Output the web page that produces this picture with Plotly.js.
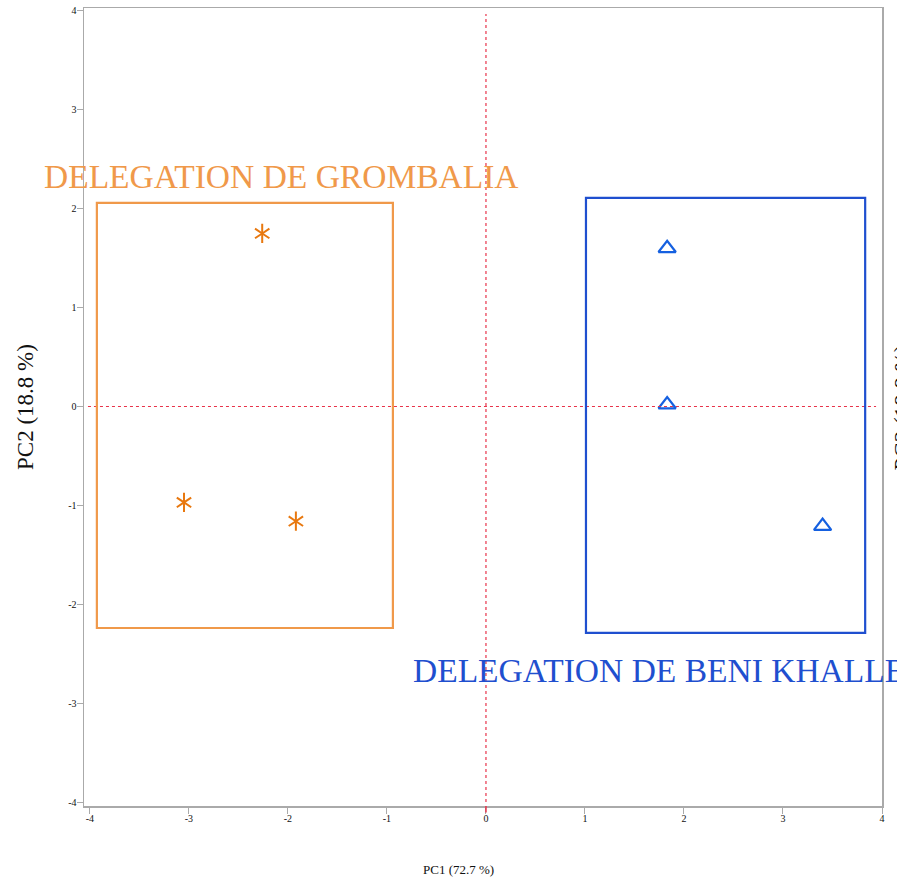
<!DOCTYPE html>
<html><head><meta charset="utf-8">
<script src="https://cdn.plot.ly/plotly-3.0.1.min.js"></script>
<style>html,body{margin:0;padding:0;background:#fff;}</style>
</head><body>
<div id="chart" style="width:897px;height:887px;"></div>
<script>
// Data
const groupNames = ["DELEGATION DE GROMBALIA", "DELEGATION DE BENI KHALLED"];
const grombaliaPC1 = [-2.26, -3.05, -1.92];
const grombaliaPC2 = [1.75, -0.97, -1.16];
const beniPC1 = [1.83, 1.83, 3.40];
const beniPC2 = [1.60, 0.02, -1.21];
const grombaliaBox = {x0: -3.93, x1: -0.94, y0: -2.24, y1: 2.06};
const beniBox = {x0: 1.01, x1: 3.83, y0: -2.29, y1: 2.11};
const xTicks = [-4, -3, -2, -1, 0, 1, 2, 3, 4];
const yTicks = [-4, -3, -2, -1, 0, 1, 2, 3, 4];
const xTitle = "PC1 (72.7 %)";
const yTitle = "PC2 (18.8 %)";

const orange = "#F0994A", orangeMk = "#E8780F";
const blue = "#1F4FCF", blueMk = "#1560E0";
const serif = "'Liberation Serif', 'DejaVu Serif', serif";

const starMarker = sym => ({symbol: sym, size: 12, color: orangeMk, line: {color: orangeMk, width: 2}});
const traces = [
  {x: grombaliaPC1, y: grombaliaPC2, type: "scatter", mode: "markers", marker: starMarker("y-up-open"), showlegend: false, cliponaxis: false},
  {x: grombaliaPC1, y: grombaliaPC2, type: "scatter", mode: "markers", marker: starMarker("y-down-open"), showlegend: false, cliponaxis: false},
  {x: beniPC1, y: beniPC2, type: "scatter", mode: "markers",
   marker: {symbol: "triangle-up-open", size: 15, color: blueMk, line: {color: blueMk, width: 2.2}}, showlegend: false, cliponaxis: false}
];

const layout = {
  width: 897, height: 887,
  margin: {l: 84, r: 15, t: 8, b: 81},
  paper_bgcolor: "#fff", plot_bgcolor: "#fff",
  font: {family: serif, color: "#222"},
  xaxis: {range: [-4.06, 4.0], tickvals: xTicks, ticktext: xTicks.map(String), showgrid: false, zeroline: false,
          showline: true, linecolor: "#aaa", linewidth: 1.5, mirror: true, ticks: "outside", ticklen: 6, tickcolor: "#aaa",
          ticklabelstandoff: -4,
          tickfont: {size: 10, family: serif, color: "#111"}},
  yaxis: {range: [-4.04, 4.03], tickvals: yTicks, ticktext: yTicks.map(String), showgrid: false, zeroline: false,
          showline: true, linecolor: "#aaa", linewidth: 1.5, mirror: true, ticks: "outside", ticklen: 6, tickcolor: "#aaa",
          ticklabelstandoff: -2,
          tickfont: {size: 10, family: serif, color: "#111"},
          title: {text: yTitle, font: {size: 23, family: serif, color: "#111"}, standoff: 28}},
  shapes: [
    {type: "line", xref: "x", yref: "y", x0: 0, x1: 0, y0: -4.0, y1: 3.97, line: {color: "#E8334A", width: 1.2, dash: "dot"}},
    {type: "line", xref: "x", yref: "y", x0: -4.02, x1: 3.94, y0: 0, y1: 0, line: {color: "#E8334A", width: 1.2, dash: "dot"}},
    {type: "line", xref: "x", yref: "paper", x0: 0, x1: 0, y0: 0, y1: -0.008, line: {color: "#E8334A", width: 1.5}},
    {type: "rect", xref: "x", yref: "y", x0: grombaliaBox.x0, x1: grombaliaBox.x1, y0: grombaliaBox.y0, y1: grombaliaBox.y1, line: {color: orange, width: 2.2}},
    {type: "rect", xref: "x", yref: "y", x0: beniBox.x0, x1: beniBox.x1, y0: beniBox.y0, y1: beniBox.y1, line: {color: blue, width: 2.2}}
  ],
  annotations: [
    {xref: "paper", yref: "y", x: -0.0525, y: 2.33, xanchor: "left", yanchor: "middle", text: groupNames[0], showarrow: false,
     font: {size: 33.5, family: serif, color: orange}},
    {xref: "x", yref: "y", x: -0.76, y: -2.67, xanchor: "left", yanchor: "middle", text: groupNames[1], showarrow: false,
     font: {size: 33.5, family: serif, color: blue}},
    {xref: "paper", yref: "paper", x: 0.4687, y: -0.080, xanchor: "center", yanchor: "middle", text: xTitle, showarrow: false,
     font: {size: 13, family: serif, color: "#111"}},
    {xref: "paper", yref: "paper", x: 1.0075, y: 0.5, xanchor: "left", yanchor: "middle", text: yTitle, textangle: -90, showarrow: false,
     font: {size: 23, family: serif, color: "#111"}}
  ]
};
Plotly.newPlot("chart", traces, layout, {displayModeBar: false, staticPlot: true});
</script>
</body></html>
